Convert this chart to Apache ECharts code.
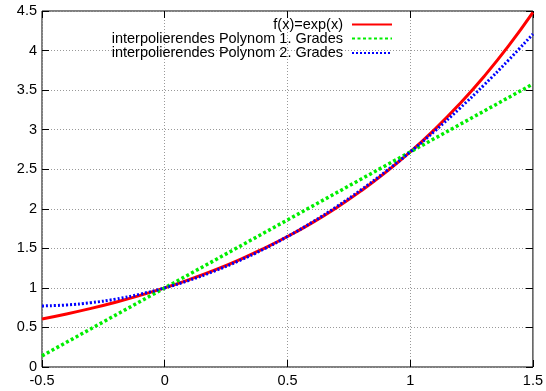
<!DOCTYPE html>
<html>
<head>
<meta charset="utf-8">
<script src="https://cdn.jsdelivr.net/npm/echarts@6/dist/echarts.min.js"></script>
<style>
  html, body { margin: 0; padding: 0; background: #fff; }
  #chart { width: 546px; height: 391px; }
</style>
</head>
<body>
<div id="chart"></div>
<script>
// values, step 0.1 on x
const xs = [-0.5, -0.4, -0.3, -0.2, -0.1, 0, 0.1, 0.2, 0.3, 0.4, 0.5,
            0.6, 0.7, 0.8, 0.9, 1.0, 1.1, 1.2, 1.3, 1.4, 1.5];
const expY = [0.607, 0.670, 0.741, 0.819, 0.905, 1.0, 1.105, 1.221, 1.350, 1.492, 1.649,
              1.822, 2.014, 2.226, 2.460, 2.718, 3.004, 3.320, 3.669, 4.055, 4.482];
const quadY = [0.772, 0.784, 0.813, 0.858, 0.921, 1.0, 1.096, 1.209, 1.339, 1.485, 1.649,
               1.829, 2.026, 2.240, 2.471, 2.718, 2.983, 3.264, 3.562, 3.877, 4.209];
const linX = [-0.5, 0, 0.5, 1.0, 1.5];
const linY = [0.141, 1.0, 1.859, 2.718, 3.577];

const names = ['f(x)=exp(x)', 'interpolierendes Polynom 1. Grades', 'interpolierendes Polynom 2. Grades'];
const xTicks = ['-0.5', '0', '0.5', '1', '1.5'];

const pairs = (a, b) => a.map((x, i) => [x, b[i]]);

const chart = echarts.init(document.getElementById('chart'));
const font = { fontFamily: 'Liberation Sans, Arial, sans-serif', fontSize: 14.5, color: '#000' };

const legendAt = (name, top) => ({
  data: [name],
  orient: 'vertical',
  align: 'right',
  right: 153,
  top: top,
  padding: 0,
  itemWidth: 40,
  itemHeight: 14,
  selectedMode: false,
  itemStyle: { opacity: 0 },
  textStyle: Object.assign({ padding: [0, 4, 0, 0], lineHeight: 14 }, font)
});

const tickStyle = { inside: true, length: 7, lineStyle: { color: '#000' } };

const option = {
  animation: false,
  grid: { left: 42, right: 13, top: 11, bottom: 24, show: true, borderColor: '#000', borderWidth: 1 },
  legend: [legendAt(names[0], 17), legendAt(names[1], 31), legendAt(names[2], 45.5)],
  xAxis: [{
    type: 'value', min: -0.5, max: 1.5, interval: 0.5,
    axisLine: { show: false, onZero: false },
    axisTick: tickStyle,
    axisLabel: Object.assign({ margin: 6, formatter: v => xTicks[Math.round((v + 0.5) / 0.5)] }, font),
    splitLine: { show: true, lineStyle: { color: '#999', type: [1, 2] } }
  }, {
    type: 'value', position: 'top', min: -0.5, max: 1.5, interval: 0.5,
    axisLine: { show: false, onZero: false },
    axisTick: tickStyle,
    axisLabel: { show: false }, splitLine: { show: false }
  }],
  yAxis: [{
    type: 'value', min: 0, max: 4.5, interval: 0.5,
    axisLine: { show: false, onZero: false },
    axisTick: tickStyle,
    axisLabel: Object.assign({ margin: 5 }, font),
    splitLine: { show: true, lineStyle: { color: '#999', type: [1, 2] } }
  }, {
    type: 'value', position: 'right', min: 0, max: 4.5, interval: 0.5,
    axisLine: { show: false, onZero: false },
    axisTick: tickStyle,
    axisLabel: { show: false }, splitLine: { show: false }
  }],
  series: [{
    name: names[0], type: 'line', symbol: 'none', smooth: true,
    data: pairs(xs, expY),
    lineStyle: { color: '#ff0000', width: 3 }, itemStyle: { color: '#ff0000' }
  }, {
    name: names[1], type: 'line', symbol: 'none',
    data: pairs(linX, linY),
    lineStyle: { color: '#00ee00', width: 3.5, type: [3, 2.5] }, itemStyle: { color: '#00ee00' }
  }, {
    name: names[2], type: 'line', symbol: 'none', smooth: true,
    data: pairs(xs, quadY),
    lineStyle: { color: '#0000ff', width: 3, type: [2, 2] }, itemStyle: { color: '#0000ff' }
  }]
};
chart.setOption(option);
</script>
</body>
</html>
